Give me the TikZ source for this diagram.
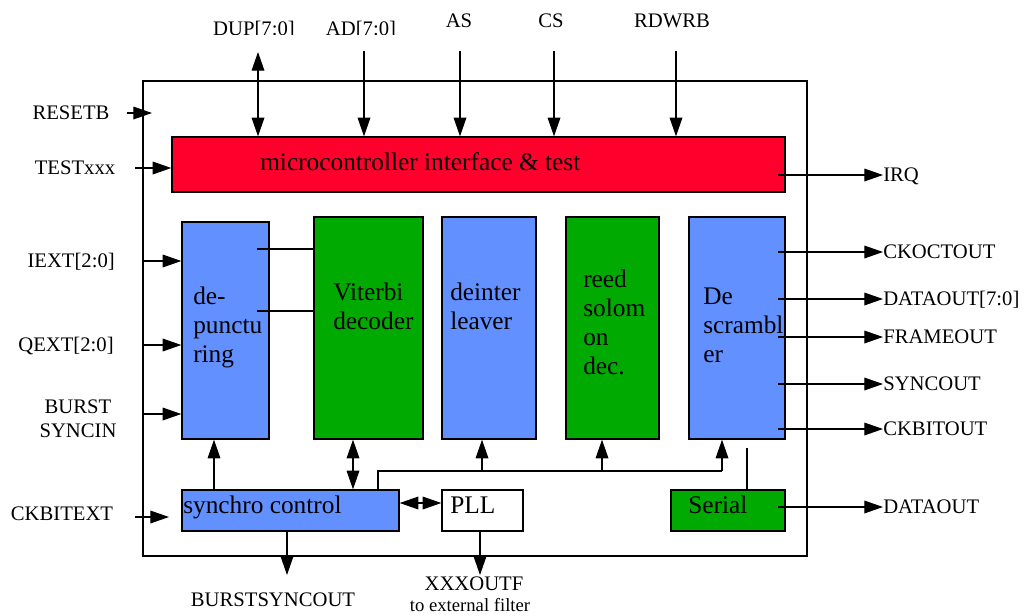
\documentclass[tikz,border=0pt]{standalone}
\usepackage{fontspec}
\setmainfont{Liberation Serif}
\usetikzlibrary{arrows.meta,fit}
\definecolor{cred}{RGB}{255,0,45}
\definecolor{cblue}{RGB}{98,144,255}
\definecolor{cgreen}{RGB}{0,170,0}
\begin{document}
\begin{tikzpicture}[x=0.75pt,y=-0.75pt,
  box/.style={draw, line width=1pt, inner sep=0pt},
  arr/.style={line width=0.9pt, -{Triangle[length=14pt,width=9.5pt]}},
  biarr/.style={line width=0.9pt, {Triangle[length=14pt,width=9.5pt]}-{Triangle[length=14pt,width=9.5pt]}},
  wire/.style={line width=0.9pt},
  lbl/.style={font=\fontsize{15.5}{18}\selectfont, inner sep=0pt},
  small/.style={font=\fontsize{14}{16}\selectfont, inner sep=0pt},
  btxt/.style={font=\fontsize{19}{21.75}\selectfont, inner sep=0pt, align=left}]
\useasboundingbox (0,0) rectangle (1025,615);

% blocks
\node[box, fit={(143,81)(807,556)}] (chip) {};
\node[box, fill=cred, fit={(172,137)(785,192)}] (mcu) {};
\node[btxt, anchor=base west] (mcut) at (260,170) {microcontroller interface \& test};
\node[box, fill=cblue, fit={(182,222)(269,439)}] (dep) {};
\node[btxt, anchor=base west] (dept) at (193,362) {de-\\punctu\\ring};
\node[box, fill=cgreen, fit={(314,217)(423,439)}] (vit) {};
\node[btxt, anchor=base west] (vitt) at (333,329) {Viterbi\\decoder};
\node[box, fill=cblue, fit={(442,217)(536,439)}] (dil) {};
\node[btxt, anchor=base west] (dilt) at (450,329) {deinter\\leaver};
\node[box, fill=cgreen, fit={(566,217)(659,439)}] (rs) {};
\node[btxt, anchor=base west] (rst) at (583,374) {reed\\solom\\on\\dec.};
\node[box, fill=cblue, fit={(689,217)(785,439)}] (desc) {};
\node[btxt, anchor=base west] (desct) at (703,362) {De\\scrambl\\er};
\node[box, fill=cblue, fit={(182,490)(399,531)}] (sync) {};
\node[btxt, anchor=base west] (synct) at (183,513) {synchro control};
\node[box, fill=white, fit={(442,490)(523,531)}] (pll) {};
\node[btxt, anchor=base west] (pllt) at (450,513) {PLL};
\node[box, fill=cgreen, fit={(671,490)(785,531)}] (ser) {};
\node[btxt, anchor=base west] (sert) at (688,513) {Serial};

% top labels
\begin{scope}
  \clip (200,0) rectangle (420,34.5);
  \node[lbl, anchor=base] (dup) at (254,35.5) {DUP[7:0]};
  \node[lbl, anchor=base] (ad) at (361,35.5) {AD[7:0]};
\end{scope}
\node[lbl, anchor=base] (as) at (459,27) {AS};
\node[lbl, anchor=base] (cs) at (551,27) {CS};
\node[lbl, anchor=base] (rdwrb) at (672,27) {RDWRB};

% left labels
\node[lbl, anchor=base] (resetb) at (71,119) {RESETB};
\node[lbl, anchor=base] (testx) at (75,174) {TESTxxx};
\node[lbl, anchor=base east] (iext) at (115,267) {IEXT[2:0]};
\node[lbl, anchor=base] (qext) at (66,351) {QEXT[2:0]};
\node[lbl, anchor=base] (burst) at (78,413) {BURST};
\node[lbl, anchor=base] (syncin) at (78,437) {SYNCIN};
\node[lbl, anchor=base] (ckbitext) at (62,520) {CKBITEXT};

% right labels
\node[lbl, anchor=base west] (irq) at (883,181) {IRQ};
\node[lbl, anchor=base west] (ckoct) at (883,258) {CKOCTOUT};
\node[lbl, anchor=base west] (dout8) at (883,305) {DATAOUT[7:0]};
\node[lbl, anchor=base west] (frame) at (883,343) {FRAMEOUT};
\node[lbl, anchor=base west] (syncout) at (883,390) {SYNCOUT};
\node[lbl, anchor=base west] (ckbitout) at (883,435) {CKBITOUT};
\node[lbl, anchor=base west] (dout) at (883,513) {DATAOUT};

% bottom labels
\node[lbl, anchor=base] (bso) at (273,606) {BURSTSYNCOUT};
\node[lbl, anchor=base] (xxx) at (474,590) {XXXOUTF};
\node[small, anchor=base] (ext) at (470,611) {to external filter};

% top connectors
\coordinate (dupS) at (258,52);
\coordinate (adS) at (364,51);
\coordinate (asS) at (460,51);
\coordinate (csS) at (554,51);
\coordinate (rdS) at (676,51);
\draw[biarr] (dupS) -- (dupS |- mcu.north);
\draw[arr] (adS) -- (adS |- mcu.north);
\draw[arr] (asS) -- (asS |- mcu.north);
\draw[arr] (csS) -- (csS |- mcu.north);
\draw[arr] (rdS) -- (rdS |- mcu.north);

% left connectors
\coordinate (rstS) at (127,113);
\coordinate (rstE) at (152,113);
\draw[arr] (rstS) -- (rstE);
\coordinate (tstS) at (135,168);
\draw[arr] (tstS) -- (tstS -| mcu.west);
\coordinate (iextS) at (143,261);
\coordinate (qextS) at (143,345);
\coordinate (burstS) at (143,414);
\draw[arr] (iextS) -- (iextS -| dep.west);
\draw[arr] (qextS) -- (qextS -| dep.west);
\draw[arr] (burstS) -- (burstS -| dep.west);
\coordinate (ckS) at (135,517);
\coordinate (ckE) at (169,517);
\draw[arr] (ckS) -- (ckE);

% depuncturing -> viterbi
\coordinate (dv1) at (257,249);
\coordinate (dv2) at (257,311);
\draw[wire] (dv1) -- (dv1 -| vit.west);
\draw[wire] (dv2) -- (dv2 -| vit.west);

% right outputs
\coordinate (irqS) at (778,175);
\draw[arr] (irqS) -- (irqS -| irq.west);
\coordinate (o1) at (778,252);
\coordinate (o2) at (778,299);
\coordinate (o3) at (778,337);
\coordinate (o4) at (778,384);
\coordinate (o5) at (778,429);
\coordinate (o6) at (778,507);
\draw[arr] (o1) -- (o1 -| ckoct.west);
\draw[arr] (o2) -- (o2 -| dout8.west);
\draw[arr] (o3) -- (o3 -| frame.west);
\draw[arr] (o4) -- (o4 -| syncout.west);
\draw[arr] (o5) -- (o5 -| ckbitout.west);
\draw[arr] (o6) -- (o6 -| dout.west);

% synchro control connections
\coordinate (sdX) at (214,0);
\draw[arr] (sdX |- sync.north) -- (sdX |- dep.south);
\coordinate (svX) at (353,0);
\draw[biarr] (svX |- sync.north) -- (svX |- vit.south);
\coordinate (busA) at (378,471);
\coordinate (busB) at (722,471);
\coordinate (busD) at (482,471);
\coordinate (busR) at (602,471);
\draw[wire] (busA |- sync.north) -- (busA) -- (busB);
\draw[arr] (busD) -- (busD |- dil.south);
\draw[arr] (busR) -- (busR |- rs.south);
\draw[arr] (busB) -- (busB |- desc.south);
\coordinate (serT) at (747,448);
\draw[wire] (serT |- ser.north) -- (serT);
\coordinate (spY) at (0,503);
\draw[biarr] (sync.east |- spY) -- (pll.west |- spY);

% bottom outputs
\coordinate (bsoE) at (287,575);
\coordinate (xxxE) at (480,575);
\draw[arr] (bsoE |- sync.south) -- (bsoE);
\draw[arr] (xxxE |- pll.south) -- (xxxE);
\end{tikzpicture}
\end{document}
